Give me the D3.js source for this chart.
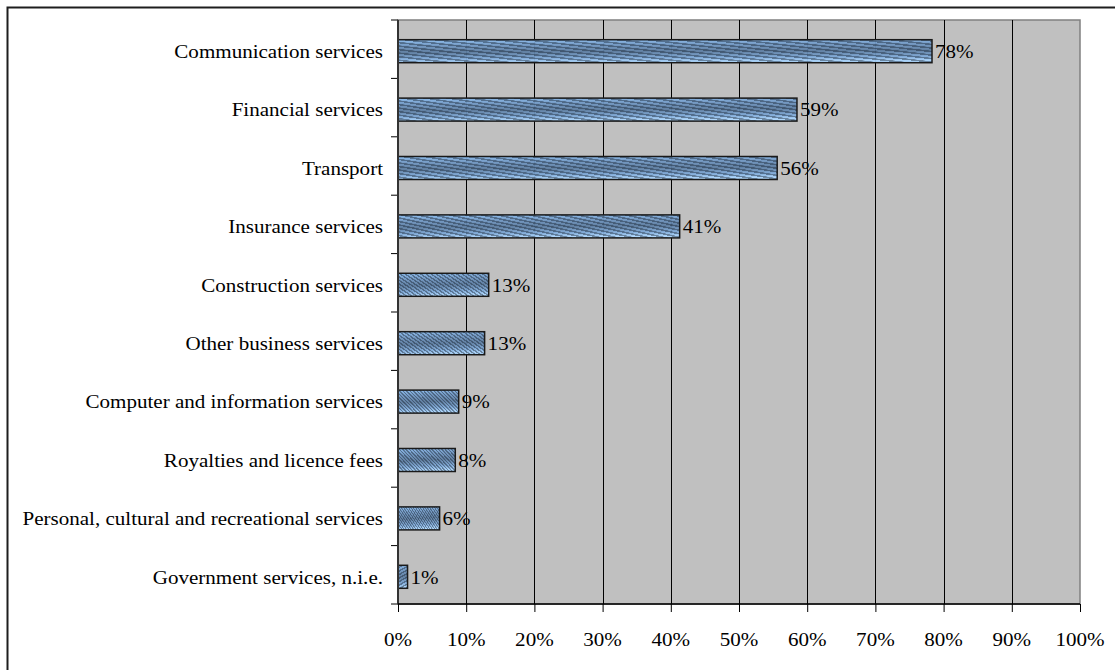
<!DOCTYPE html>
<html>
<head>
<meta charset="utf-8">
<script src="https://cdn.jsdelivr.net/npm/d3@7"></script>
<style>
  html, body { margin: 0; padding: 0; background: #fff; }
  svg { display: block; }
  text { font-family: "Liberation Serif", "Times New Roman", serif; fill: #000; }
</style>
</head>
<body>
<svg id="chart" width="1115" height="670"></svg>
<script>
// Service categories, top to bottom
const categories = [
  "Communication services",
  "Financial services",
  "Transport",
  "Insurance services",
  "Construction services",
  "Other business services",
  "Computer and information services",
  "Royalties and licence fees",
  "Personal, cultural and recreational services",
  "Government services, n.i.e."
];
// Share of each category (percent)
const shares = [78.3, 58.5, 55.6, 41.3, 13.3, 12.7, 8.9, 8.4, 6.1, 1.4];
// Axis tick values (percent)
const xTicks = [0, 10, 20, 30, 40, 50, 60, 70, 80, 90, 100];

const svg = d3.select("#chart");
const W = 1115, H = 670;
const plot = { left: 398, right: 1080, top: 20, bottom: 604 };
const FONT = 19.5, STRETCH = 1.08;

// Outer frame
svg.append("rect")
  .attr("x", 7.5).attr("y", 7.5)
  .attr("width", W).attr("height", H)
  .attr("fill", "none").attr("stroke", "#1e1e1e").attr("stroke-width", 2);

const x = d3.scaleLinear().domain([0, 100]).range([plot.left, plot.right]);
const y = d3.scaleBand().domain(categories).range([plot.top, plot.bottom]).padding(0);

// Fill definitions: blue gradient with stretched diagonal hatching
const defs = svg.append("defs");
const blue = defs.append("linearGradient").attr("id", "barBlue")
  .attr("x1", 0).attr("y1", 0).attr("x2", 0.1).attr("y2", 1);
[[0, "#8cbff3"], [0.25, "#7198c4"], [0.55, "#5b7b9f"], [0.82, "#7ea9d8"], [1, "#acd7ff"]].forEach(([o, c]) =>
  blue.append("stop").attr("offset", o).attr("stop-color", c));

const hatch = defs.append("linearGradient").attr("id", "barHatch")
  .attr("x1", 0).attr("y1", 0).attr("x2", 0.05).attr("y2", -0.0185)
  .attr("spreadMethod", "repeat");
[[0, "#141f2c", 0.42], [0.4, "#141f2c", 0.42], [0.5, "#141f2c", 0], [1, "#141f2c", 0]].forEach(([o, c, a]) =>
  hatch.append("stop").attr("offset", o).attr("stop-color", c).attr("stop-opacity", a));

// Plot background
svg.append("rect")
  .attr("x", plot.left).attr("y", plot.top)
  .attr("width", plot.right - plot.left).attr("height", plot.bottom - plot.top)
  .attr("fill", "#c0c0c0").attr("stroke", "#808080").attr("stroke-width", 1.5);

// Vertical gridlines
svg.append("g").selectAll("line")
  .data(xTicks.filter(d => d > 0 && d < 100))
  .join("line")
  .attr("x1", d => Math.round(x(d)) + 0.5).attr("x2", d => Math.round(x(d)) + 0.5)
  .attr("y1", plot.top).attr("y2", plot.bottom)
  .attr("stroke", "#000").attr("stroke-width", 1);

// Bars
const barH = 23;
const rows = categories.map((c, i) => ({ c, v: shares[i] }));
const barY = d => y(d.c) + y.bandwidth() / 2 - barH / 2 + 2;
const bars = svg.append("g");
bars.selectAll("rect.base")
  .data(rows).join("rect").attr("class", "base")
  .attr("x", x(0)).attr("y", barY)
  .attr("width", d => x(d.v) - x(0)).attr("height", barH)
  .attr("fill", "url(#barBlue)").attr("fill-opacity", 0.94);
bars.selectAll("rect.hatch")
  .data(rows).join("rect").attr("class", "hatch")
  .attr("x", x(0)).attr("y", barY)
  .attr("width", d => x(d.v) - x(0)).attr("height", barH)
  .attr("fill", "url(#barHatch)")
  .attr("stroke", "#1a1a1a").attr("stroke-width", 1.5);

// Horizontally stretched text helper
function stretchText(g, tx, ty, anchor, str) {
  g.append("text")
    .attr("transform", `translate(${tx},${ty}) scale(${STRETCH},1)`)
    .attr("text-anchor", anchor)
    .attr("dy", "0.35em")
    .attr("font-size", FONT)
    .text(str);
}

// Value labels
const vl = svg.append("g");
rows.forEach(d => stretchText(vl, x(d.v) + 3, barY(d) + barH / 2, "start", Math.round(d.v) + "%"));

// Category labels
const cl = svg.append("g");
rows.forEach(d => stretchText(cl, plot.left - 15, barY(d) + barH / 2, "end", d.c));

// Left axis ticks between categories
const bounds = d3.range(categories.length + 1).map(i => plot.top + i * y.step());
svg.append("g").selectAll("line").data(bounds).join("line")
  .attr("x1", plot.left - 7).attr("x2", plot.left)
  .attr("y1", d => d).attr("y2", d => d)
  .attr("stroke", "#000").attr("stroke-width", 1);
svg.append("line")
  .attr("x1", plot.left).attr("x2", plot.left)
  .attr("y1", plot.top).attr("y2", plot.bottom)
  .attr("stroke", "#333").attr("stroke-width", 2);

// Bottom axis
const xAxis = d3.axisBottom(x).tickValues(xTicks).tickSize(8).tickFormat("");
const gx = svg.append("g").attr("transform", `translate(0,${plot.bottom})`).call(xAxis);
gx.select(".domain").attr("stroke", "#000").attr("stroke-width", 1.5)
  .attr("d", `M${plot.left},0H${plot.right}`);
gx.selectAll(".tick line").attr("stroke", "#000");
const xl = svg.append("g");
xTicks.forEach(t => stretchText(xl, x(t), 639.5, "middle", t + "%"));
</script>
</body>
</html>
